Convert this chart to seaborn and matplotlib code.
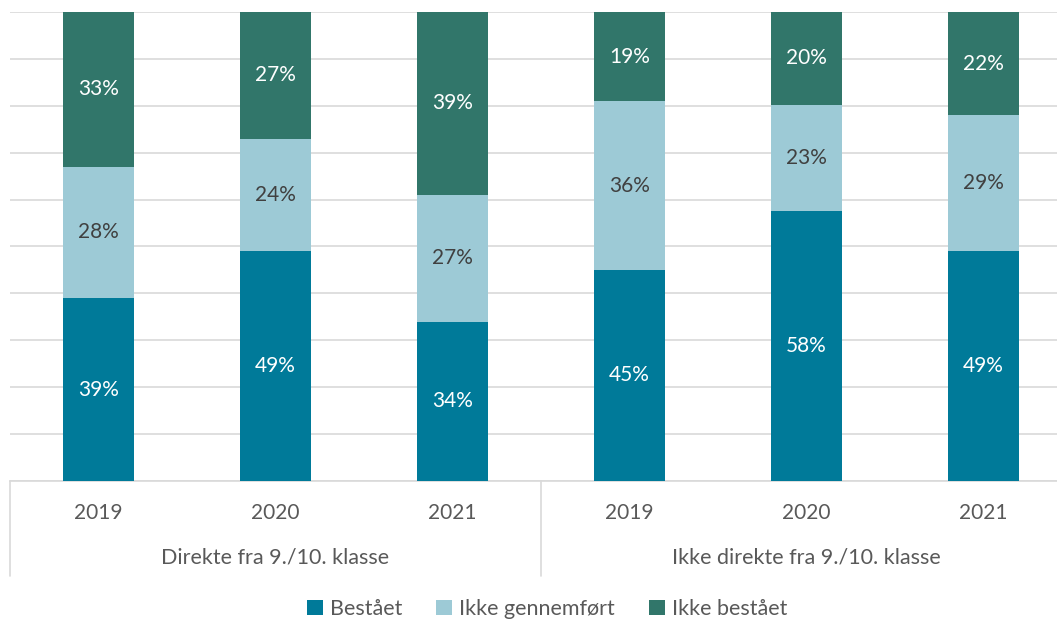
import numpy as np
import pandas as pd
import matplotlib.pyplot as plt
import seaborn as sns
from matplotlib.patches import Patch
from matplotlib.lines import Line2D

# Data (percent of students)
groups = ["Direkte fra 9./10. klasse", "Ikke direkte fra 9./10. klasse"]
years = ["2019", "2020", "2021"]
series = ["Bestået", "Ikke gennemført", "Ikke bestået"]
bestaet = [39, 49, 34, 45, 57.5, 49]
ikke_gennemfort = [28, 24, 27, 36, 22.7, 29]
ikke_bestaet = [33, 27, 39, 19, 19.8, 22]

colors = ["#007A99", "#9DCAD6", "#31766A"]
label_colors = ["white", "#404040", "white"]

sns.set_style("white")
plt.rcParams["font.family"] = ["Lato", "DejaVu Sans"]

cats = [f"{g} {y}" for g in groups for y in years]
df = pd.DataFrame({"cat": cats, "b": bestaet, "g": ikke_gennemfort, "i": ikke_bestaet})
df["cum1"] = df["b"]
df["cum2"] = df["b"] + df["g"]
df["cum3"] = df["cum2"] + df["i"]

fig = plt.figure(figsize=(10.57, 6.21), dpi=100)
W, H = 1057, 621
ax = fig.add_axes([10 / W, (H - 481) / H, 1062 / W, 469 / H])

# overlay cumulative bars (tallest first)
for col, c in zip(["cum3", "cum2", "cum1"], colors[::-1]):
    sns.barplot(data=df, x="cat", y=col, order=cats, color=c, width=0.4,
                saturation=1, linewidth=0, edgecolor="none", ax=ax, zorder=3)

ax.set_xlim(-0.5, 5.5)
ax.set_ylim(0, 100)
ax.set_yticks(np.arange(0, 101, 10))
ax.yaxis.grid(True, color="#D9D9D9", lw=1.2, zorder=0)
ax.set_axisbelow(True)
ax.set_xticks([])
ax.set_yticklabels([])
ax.tick_params(left=False, bottom=False)
ax.set_xlabel("")
ax.set_ylabel("")
for s in ["top", "right", "left"]:
    ax.spines[s].set_visible(False)
ax.spines["bottom"].set_color("#D9D9D9")
ax.spines["bottom"].set_linewidth(1.2)

# segment labels
vals = [bestaet, ikke_gennemfort, ikke_bestaet]
for k in range(len(cats)):
    base = 0
    for s, v in enumerate(vals):
        ax.text(k, base + v[k] / 2, f"{v[k]:.0f}%", ha="center", va="center",
                fontsize=15, color=label_colors[s], zorder=5)
        base += v[k]

# two-level category axis
for k, y in enumerate(years * 2):
    ax.text(k, -6.8, y, ha="center", va="center", fontsize=15, color="#595959",
            clip_on=False)
for j, g in enumerate(groups):
    ax.text(j * 3 + 1, -16.4, g, ha="center", va="center", fontsize=15.5,
            color="#595959", clip_on=False)
for xs in [-0.5, 2.5]:
    ax.add_line(Line2D([xs, xs], [0, -20.3], color="#D9D9D9", lw=1.2,
                       clip_on=False))

handles = [Patch(facecolor=c, edgecolor="none") for c in colors]
fig.legend(handles, series, loc="center", bbox_to_anchor=(547 / W, 1 - 609 / H),
           ncol=3, frameon=False, fontsize=15.5, handlelength=0.75,
           handleheight=0.75, handletextpad=0.3, columnspacing=1.6,
           labelcolor="#595959")

fig.savefig("out.png", dpi=100)
